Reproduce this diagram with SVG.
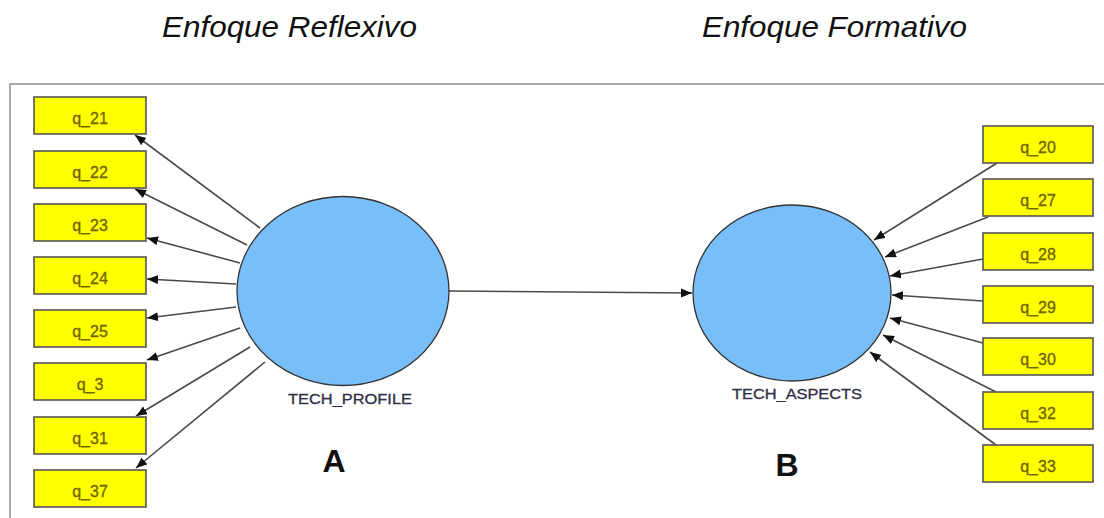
<svg xmlns="http://www.w3.org/2000/svg" width="1104" height="518" viewBox="0 0 1104 518">
<style>
.title{font-family:"Liberation Sans",Arial,sans-serif;font-style:italic;font-size:30px;fill:#111}
.big{font-family:"Liberation Sans",Arial,sans-serif;font-weight:bold;font-size:32px;fill:#111;text-anchor:middle}
.box rect{fill:#ffff00;stroke:#555;stroke-width:1.6}
.box text{font-family:"Liberation Sans",Arial,sans-serif;font-size:16px;fill:#6f6200;text-anchor:middle;stroke:#6f6200;stroke-width:0.3}
.lv ellipse{fill:#78bef9;stroke:#333;stroke-width:1.3}
.lv text{font-family:"Liberation Sans",Arial,sans-serif;font-size:14px;fill:#2f2f45;text-anchor:middle;stroke:#2f2f45;stroke-width:0.3}
.conn line{stroke:#4a4a4a;stroke-width:1.6;marker-end:url(#ah)}
</style>
<defs>
<marker id="ah" markerUnits="userSpaceOnUse" markerWidth="12" markerHeight="10" refX="11" refY="4.5" orient="auto">
<path d="M0,0 L11,4.5 L0,9 Z" fill="#111"/>
</marker>
</defs>
<rect x="0" y="0" width="1104" height="518" fill="#fff"/>
<rect x="10" y="84" width="1100" height="450" fill="none" stroke="#aaa" stroke-width="2"/>
<text class="title" x="162" y="37" textLength="255" lengthAdjust="spacingAndGlyphs">Enfoque Reflexivo</text>
<text class="title" x="702" y="37" textLength="265" lengthAdjust="spacingAndGlyphs">Enfoque Formativo</text>
<g class="conn" id="connectors">
<line x1="260" y1="228" x2="135" y2="135"/>
<line x1="247" y1="245" x2="135" y2="189"/>
<line x1="240" y1="263" x2="147" y2="238"/>
<line x1="236" y1="284" x2="147" y2="279"/>
<line x1="236" y1="307" x2="147" y2="318"/>
<line x1="240" y1="328" x2="147" y2="360"/>
<line x1="250" y1="347" x2="136" y2="416"/>
<line x1="265" y1="362" x2="136" y2="468"/>
<line x1="449" y1="291" x2="692" y2="293"/>
<line x1="997" y1="163" x2="874" y2="240"/>
<line x1="988" y1="217" x2="885" y2="257"/>
<line x1="983" y1="259" x2="890" y2="276"/>
<line x1="983" y1="301" x2="892" y2="295"/>
<line x1="983" y1="343" x2="890" y2="318"/>
<line x1="996" y1="392" x2="883" y2="335"/>
<line x1="996" y1="445" x2="870" y2="352"/>
</g>
<g class="lv" id="tech_profile">
<ellipse cx="343" cy="291" rx="106" ry="94.5"/>
<text x="350" y="404" textLength="124" lengthAdjust="spacingAndGlyphs">TECH_PROFILE</text>
</g>
<g class="lv" id="tech_aspects">
<ellipse cx="792" cy="293" rx="99" ry="88"/>
<text x="797" y="399" textLength="130" lengthAdjust="spacingAndGlyphs">TECH_ASPECTS</text>
</g>
<text class="big" x="334" y="472">A</text>
<text class="big" x="787" y="476">B</text>
<g class="box" id="q_21"><rect x="34" y="97" width="112" height="37"/><text x="90" y="124">q_21</text></g>
<g class="box" id="q_22"><rect x="34" y="151" width="112" height="37"/><text x="90" y="178">q_22</text></g>
<g class="box" id="q_23"><rect x="34" y="204" width="112" height="37"/><text x="90" y="231">q_23</text></g>
<g class="box" id="q_24"><rect x="34" y="257" width="112" height="37"/><text x="90" y="284">q_24</text></g>
<g class="box" id="q_25"><rect x="34" y="310" width="112" height="37"/><text x="90" y="337">q_25</text></g>
<g class="box" id="q_3"><rect x="34" y="363" width="112" height="37"/><text x="90" y="390">q_3</text></g>
<g class="box" id="q_31"><rect x="34" y="417" width="112" height="37"/><text x="90" y="444">q_31</text></g>
<g class="box" id="q_37"><rect x="34" y="470" width="112" height="37"/><text x="90" y="497">q_37</text></g>
<g class="box" id="q_20"><rect x="983" y="126" width="110" height="37"/><text x="1038" y="153">q_20</text></g>
<g class="box" id="q_27"><rect x="983" y="179" width="110" height="37"/><text x="1038" y="206">q_27</text></g>
<g class="box" id="q_28"><rect x="983" y="233" width="110" height="37"/><text x="1038" y="260">q_28</text></g>
<g class="box" id="q_29"><rect x="983" y="286" width="110" height="37"/><text x="1038" y="313">q_29</text></g>
<g class="box" id="q_30"><rect x="983" y="338" width="110" height="37"/><text x="1038" y="365">q_30</text></g>
<g class="box" id="q_32"><rect x="983" y="392" width="110" height="37"/><text x="1038" y="419">q_32</text></g>
<g class="box" id="q_33"><rect x="983" y="445" width="110" height="37"/><text x="1038" y="472">q_33</text></g>
</svg>
